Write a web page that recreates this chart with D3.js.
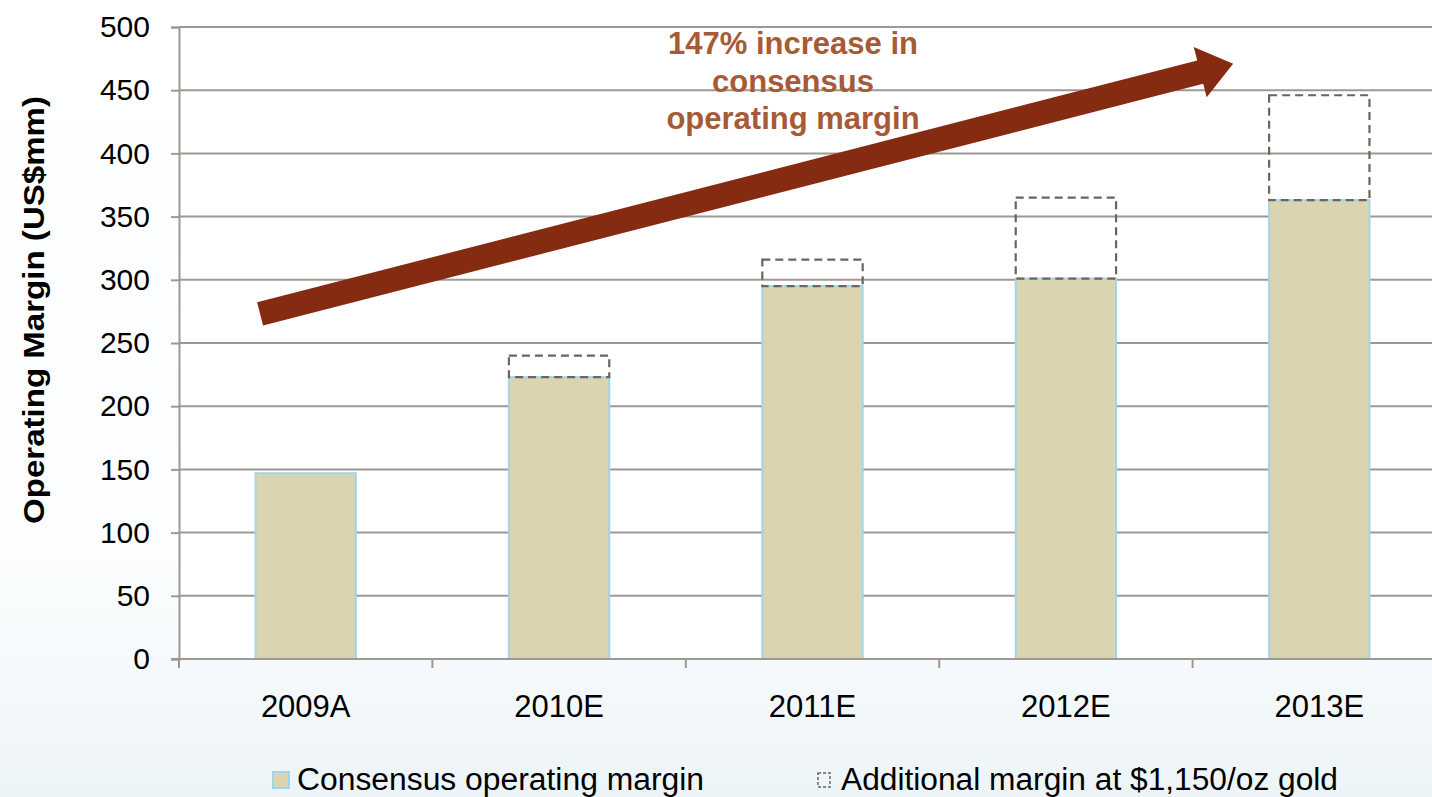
<!DOCTYPE html>
<html>
<head>
<meta charset="utf-8">
<script src="https://cdn.jsdelivr.net/npm/d3@7"></script>
<style>
  body { margin: 0; overflow: hidden; }
  text { font-family: "Liberation Sans", Arial, sans-serif; }
</style>
</head>
<body>
<div id="chart"></div>
<script>
// chart data
var years = ["2009A", "2010E", "2011E", "2012E", "2013E"];
var consensus = [147, 223, 295, 301, 363];
var additional = [0, 17, 21, 64, 83];
var yTicks = [0, 50, 100, 150, 200, 250, 300, 350, 400, 450, 500];
var legendLabels = ["Consensus operating margin", "Additional margin at $1,150/oz gold"];
var noteLines = ["147% increase in", "consensus", "operating margin"];

var W = 1432, H = 797;
var plotLeft = 179, plotTop = 27, plotBottom = 659;
var band = 253.4;

var svg = d3.select("#chart").append("svg")
    .attr("width", W)
    .attr("height", H);

// soft background
var defs = svg.append("defs");
var grad = defs.append("linearGradient").attr("id", "bg")
    .attr("x1", 0).attr("y1", 0).attr("x2", 0).attr("y2", 1);
grad.append("stop").attr("offset", "0%").attr("stop-color", "#ffffff");
grad.append("stop").attr("offset", "70%").attr("stop-color", "#fbfdfe");
grad.append("stop").attr("offset", "100%").attr("stop-color", "#edf4f7");
svg.append("rect").attr("width", W).attr("height", H).attr("fill", "url(#bg)");

var x = d3.scaleBand()
    .domain(years)
    .range([plotLeft, plotLeft + band * years.length])
    .paddingInner(0.6)
    .paddingOuter(0.3);

var y = d3.scaleLinear()
    .domain([0, 500])
    .range([plotBottom, plotTop]);

// plot area
svg.append("rect")
    .attr("x", plotLeft).attr("y", plotTop)
    .attr("width", W - plotLeft).attr("height", plotBottom - plotTop)
    .attr("fill", "#ffffff");

// gridlines
svg.append("g").selectAll("line")
    .data(yTicks.slice(1))
    .enter().append("line")
    .attr("x1", plotLeft).attr("x2", W)
    .attr("y1", function (d) { return y(d); })
    .attr("y2", function (d) { return y(d); })
    .attr("stroke", "#9e9893")
    .attr("stroke-width", 2);

// consensus bars
svg.append("g").selectAll("rect")
    .data(consensus)
    .enter().append("rect")
    .attr("x", function (d, i) { return x(years[i]) + 0.5; })
    .attr("y", function (d) { return y(d); })
    .attr("width", x.bandwidth() - 1)
    .attr("height", function (d) { return y(0) - y(d); })
    .attr("fill", "#dad4b1")
    .attr("stroke", "#9fd6ea")
    .attr("stroke-width", 2);

// additional (dashed) bars
var addData = years.map(function (yr, i) { return { year: yr, base: consensus[i], extra: additional[i] }; })
    .filter(function (d) { return d.extra > 0; });
svg.append("g").selectAll("rect")
    .data(addData)
    .enter().append("rect")
    .attr("x", function (d) { return x(d.year) + 0.5; })
    .attr("y", function (d) { return y(d.base + d.extra); })
    .attr("width", x.bandwidth() - 1)
    .attr("height", function (d) { return y(d.base) - y(d.base + d.extra); })
    .attr("fill", "none")
    .attr("stroke", "#6e645b")
    .attr("stroke-width", 2.2)
    .attr("stroke-dasharray", "8,5");

// y axis
var yAxis = svg.append("g")
    .attr("transform", "translate(" + plotLeft + ",0)")
    .call(d3.axisLeft(y).tickValues(yTicks).tickSize(8).tickPadding(21));
yAxis.selectAll("text").attr("font-size", 30).attr("fill", "#000")
    .style("font-family", "'Liberation Sans', Arial, sans-serif");
yAxis.selectAll("line, path").attr("stroke", "#9e9893").attr("stroke-width", 2);

// x axis
var xAxisLine = svg.append("g");
xAxisLine.append("line")
    .attr("x1", plotLeft - 8).attr("x2", W)
    .attr("y1", y(0)).attr("y2", y(0))
    .attr("stroke", "#9e9893").attr("stroke-width", 2);
xAxisLine.selectAll(".tk")
    .data(d3.range(years.length + 1))
    .enter().append("line")
    .attr("x1", function (d) { return plotLeft + d * band; })
    .attr("x2", function (d) { return plotLeft + d * band; })
    .attr("y1", y(0)).attr("y2", y(0) + 9)
    .attr("stroke", "#9e9893").attr("stroke-width", 2);
svg.append("g").selectAll("text")
    .data(years)
    .enter().append("text")
    .attr("x", function (d) { return x(d) + x.bandwidth() / 2; })
    .attr("y", 717)
    .attr("text-anchor", "middle")
    .attr("font-size", 31)
    .text(function (d) { return d; });

// y axis title
svg.append("text")
    .attr("transform", "translate(44," + 310 + ") rotate(-90)")
    .attr("text-anchor", "middle")
    .attr("font-size", 30)
    .attr("font-weight", "bold")
    .attr("textLength", 428)
    .attr("lengthAdjust", "spacingAndGlyphs")
    .text("Operating Margin (US$mm)");

// growth arrow, positioned in data space
var arrowStart = { band: 0.32, v: 273 };
var arrowEnd = { band: 4.16, v: 471 };
var ax0 = plotLeft + arrowStart.band * band, ay0 = y(arrowStart.v);
var ax1 = plotLeft + arrowEnd.band * band, ay1 = y(arrowEnd.v);
var ang = Math.atan2(ay1 - ay0, ax1 - ax0);
var len = Math.hypot(ax1 - ax0, ay1 - ay0);
var shaft = 12, head = 26, headLen = 34;
var arrowPts = [
  [0, -shaft], [len - headLen, -shaft], [len - headLen, -head],
  [len, 0], [len - headLen, head], [len - headLen, shaft], [0, shaft]
];
svg.append("polygon")
    .attr("points", arrowPts.map(function (p) { return p.join(","); }).join(" "))
    .attr("transform", "translate(" + ax0 + "," + ay0 + ") rotate(" + (ang * 180 / Math.PI) + ")")
    .attr("fill", "#852b12");

// annotation text
svg.append("g").selectAll("text")
    .data(noteLines)
    .enter().append("text")
    .attr("x", 793)
    .attr("y", function (d, i) { return 54 + i * 37.5; })
    .attr("text-anchor", "middle")
    .attr("font-size", 31)
    .attr("font-weight", "bold")
    .attr("fill", "#a65a36")
    .text(function (d) { return d; });

// legend
var lg = svg.append("g");
lg.append("rect")
    .attr("x", 273).attr("y", 772).attr("width", 16).attr("height", 16)
    .attr("fill", "#dad4b1").attr("stroke", "#9fd6ea").attr("stroke-width", 2);
lg.append("text").attr("x", 297).attr("y", 790).attr("font-size", 31)
    .attr("textLength", 407).attr("lengthAdjust", "spacingAndGlyphs")
    .text(legendLabels[0]);
lg.append("rect")
    .attr("x", 818).attr("y", 773).attr("width", 12).attr("height", 14)
    .attr("fill", "none").attr("stroke", "#6e645b").attr("stroke-width", 1.5)
    .attr("stroke-dasharray", "3,2");
lg.append("text").attr("x", 841).attr("y", 790).attr("font-size", 31)
    .attr("textLength", 497).attr("lengthAdjust", "spacingAndGlyphs")
    .text(legendLabels[1]);
</script>
</body>
</html>
